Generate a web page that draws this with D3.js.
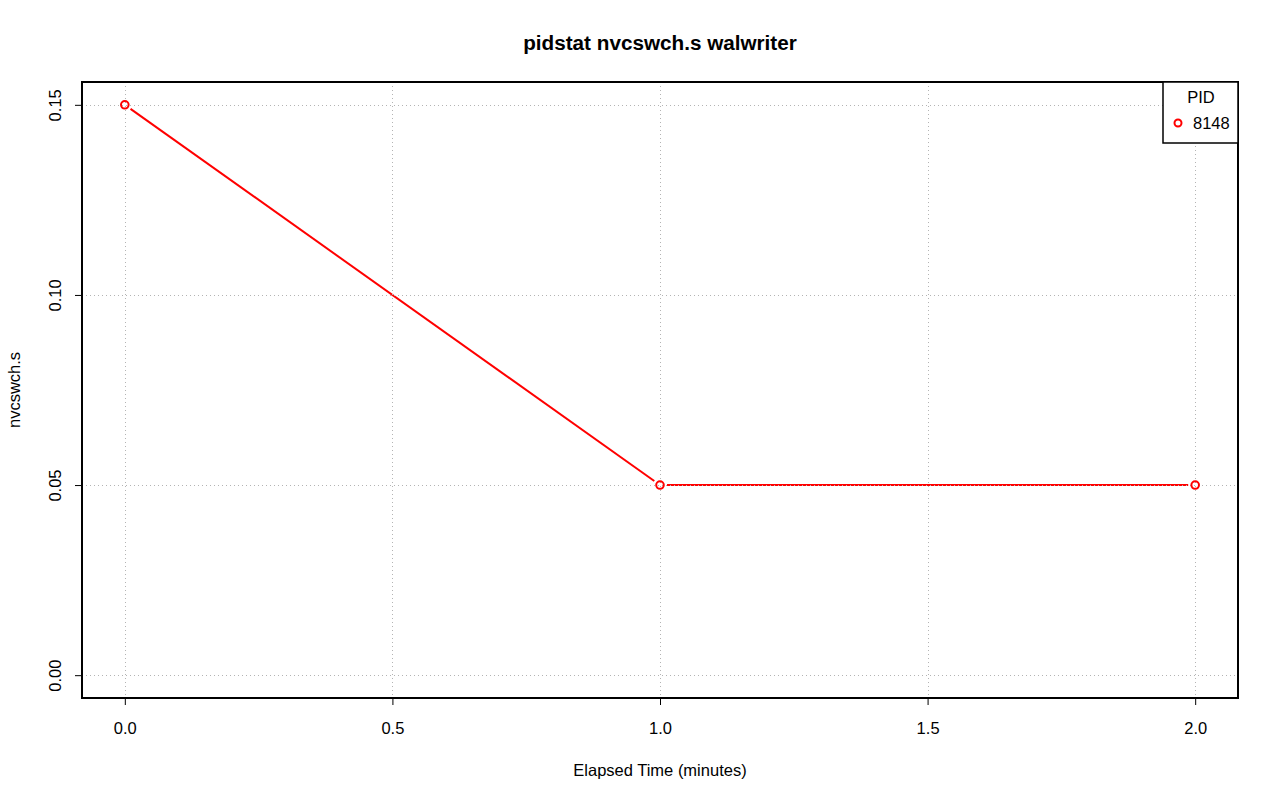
<!DOCTYPE html>
<html><head><meta charset="utf-8">
<script src="https://cdn.jsdelivr.net/npm/d3@7"></script>
<style>body{margin:0;background:#fff}svg{display:block;font-family:"Liberation Sans",Arial,sans-serif}</style>
</head><body>
<script>
const times = [0, 1, 2];
const values = [0.15, 0.05, 0.05];
const xTicks = [0, 0.5, 1, 1.5, 2];
const yTicks = [0, 0.05, 0.10, 0.15];
const pidLabels = ["8148"];
const seriesColors = ["#ff0000"];

const W = 1280, H = 801;
const L = 82, R = 1238, T = 82, B = 698;
const FS = 16.5;
const svg = d3.select("body").append("svg").attr("width", W).attr("height", H);

const xd = [0, 2], yd = [0, 0.15];
const xe = (xd[1]-xd[0])*0.04, ye = (yd[1]-yd[0])*0.04;
const x = d3.scaleLinear().domain([xd[0]-xe, xd[1]+xe]).range([L, R]);
const y = d3.scaleLinear().domain([yd[0]-ye, yd[1]+ye]).range([B, T]);

// data line with gaps (type="b")
const gap = 7;
const g = svg.append("g");
for (let i = 0; i < times.length-1; i++) {
  const x1 = x(times[i]), y1 = y(values[i]), x2 = x(times[i+1]), y2 = y(values[i+1]);
  const dx = x2-x1, dy = y2-y1, len = Math.hypot(dx, dy);
  const ux = dx/len, uy = dy/len;
  g.append("line").attr("x1", x1+ux*gap).attr("y1", y1+uy*gap)
    .attr("x2", x2-ux*gap).attr("y2", y2-uy*gap)
    .attr("stroke", seriesColors[0]).attr("stroke-width", 2);
}

// grid
const grid = svg.append("g").attr("stroke", "#b4b4b4").attr("stroke-dasharray", "1,3").attr("stroke-width", 1);
xTicks.forEach(t => grid.append("line").attr("x1", Math.round(x(t))+0.5).attr("x2", Math.round(x(t))+0.5).attr("y1", T).attr("y2", B));
yTicks.forEach(t => grid.append("line").attr("y1", Math.round(y(t))+0.5).attr("y2", Math.round(y(t))+0.5).attr("x1", L).attr("x2", R));

// points
svg.append("g").selectAll("circle").data(times).join("circle")
  .attr("cx", (d) => x(d)).attr("cy", (d, i) => y(values[i])).attr("r", 3.8)
  .attr("fill", "none").attr("stroke", seriesColors[0]).attr("stroke-width", 2);

// axes
const xa = svg.append("g").attr("transform", `translate(0,${B})`)
  .call(d3.axisBottom(x).tickValues(xTicks).tickFormat(d3.format(".1f")).tickSizeOuter(0).tickSizeInner(7).tickPadding(17));
const ya = svg.append("g").attr("transform", `translate(${L},0)`)
  .call(d3.axisLeft(y).tickValues(yTicks).tickFormat(d3.format(".2f")).tickSizeOuter(0).tickSizeInner(7));
[xa, ya].forEach(a => { a.select(".domain").remove(); a.selectAll("line").attr("stroke", "#000"); a.selectAll("text").attr("font-size", FS).attr("fill", "#000").attr("font-family", "Liberation Sans, Arial, sans-serif"); });
ya.selectAll(".tick text").attr("transform", "rotate(-90)").attr("x", 0).attr("y", -27).attr("text-anchor", "middle").attr("dy", "0.35em");

// box
svg.append("rect").attr("x", L).attr("y", T).attr("width", R-L).attr("height", B-T)
  .attr("fill", "none").attr("stroke", "#000").attr("stroke-width", 2);

// titles
svg.append("text").attr("x", (L+R)/2).attr("y", 50).attr("text-anchor", "middle")
  .attr("font-size", 20.7).attr("font-weight", "bold").text("pidstat nvcswch.s walwriter");
svg.append("text").attr("x", (L+R)/2).attr("y", 776).attr("text-anchor", "middle")
  .attr("font-size", FS).text("Elapsed Time (minutes)");
svg.append("text").attr("transform", `translate(20,${(T+B)/2}) rotate(-90)`).attr("text-anchor", "middle")
  .attr("font-size", FS).text("nvcswch.s");

// legend
const lg = svg.append("g");
lg.append("rect").attr("x", 1163).attr("y", T).attr("width", R-1163).attr("height", 61)
  .attr("fill", "#fff").attr("stroke", "#000").attr("stroke-width", 1.5);
lg.append("text").attr("x", 1201).attr("y", 103).attr("text-anchor", "middle").attr("font-size", FS).text("PID");
pidLabels.forEach((p, i) => {
  lg.append("circle").attr("cx", 1178).attr("cy", 123 + i*20).attr("r", 3.5).attr("fill", "none")
    .attr("stroke", seriesColors[i]).attr("stroke-width", 2);
  lg.append("text").attr("x", 1193).attr("y", 129 + i*20).attr("font-size", FS).text(p);
});
</script>
</body></html>
